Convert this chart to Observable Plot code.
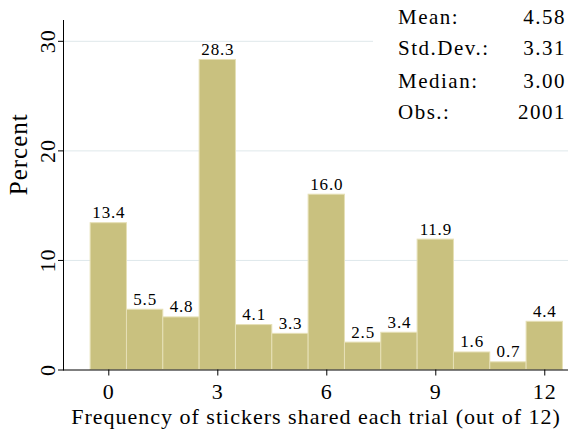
<!DOCTYPE html>
<html>
<head>
<meta charset="utf-8">
<script src="https://cdn.jsdelivr.net/npm/d3@7"></script>
<script src="https://cdn.jsdelivr.net/npm/@observablehq/plot@0.6"></script>
<style>
  html, body { margin: 0; padding: 0; background: #fff; }
  #chart { position: relative; width: 568px; height: 432px; font-family: "Liberation Serif", serif; }
  #chart g[aria-label="x-axis label"] text { letter-spacing: 1px; }
  #chart g[aria-label="x-axis tick label"] text,
  #chart g[aria-label="y-axis tick label"] text { letter-spacing: 1px; }
  #chart g.bar-labels text { letter-spacing: 0.8px; }
  #chart g.y-title text { letter-spacing: 1px; }
  #stats { position: absolute; left: 373px; top: 0; width: 195px; height: 128px; background: #fff; }
  #stats div { position: absolute; font-size: 21px; line-height: 1; letter-spacing: 1.5px; color: #000; white-space: nowrap; }
</style>
</head>
<body>
<div id="chart"></div>
<script>
// Histogram: share of trials by number of stickers shared (out of 12)
const stickers = [0, 1, 2, 3, 4, 5, 6, 7, 8, 9, 10, 11, 12];
const percents = [13.4, 5.5, 4.8, 28.3, 4.1, 3.3, 16.0, 2.5, 3.4, 11.9, 1.6, 0.7, 4.4];
const xTicks = [0, 3, 6, 9, 12];
const yTicks = [0, 10, 20, 30];
const statLabels = ["Mean:", "Std.Dev.:", "Median:", "Obs.:"];
const statValues = ["4.58", "3.31", "3.00", "2001"];

const bins = stickers.map((k, i) => ({k, pct: percents[i]}));

const plot = Plot.plot({
  width: 568,
  height: 432,
  marginLeft: 63,
  marginRight: 0,
  marginTop: 20,
  marginBottom: 62.5,
  style: {fontFamily: "Liberation Serif, serif", background: "#fff", color: "#000"},
  x: {domain: [-1.247, 12.653]},
  y: {domain: [0, 31.9]},
  marks: [
    Plot.gridY(yTicks.slice(1), {stroke: "#dfe8eb", strokeOpacity: 1, strokeWidth: 1}),
    Plot.rectY(bins, {
      x1: d => d.k - 0.5, x2: d => d.k + 0.5, y1: 0, y2: "pct",
      fill: "#c9c17f", stroke: "#e6e0b6", strokeWidth: 1, inset: 0
    }),
    Plot.text(bins, {
      x: "k", y: "pct", text: d => d.pct.toFixed(1),
      lineAnchor: "bottom", dy: -5, fontSize: 17, fill: "#000", className: "bar-labels"
    }),
    Plot.frame({anchor: "left", stroke: "#000", strokeOpacity: 1}),
    Plot.frame({anchor: "bottom", stroke: "#000", strokeOpacity: 1}),
    Plot.axisY(yTicks, {
      tickSize: 5, tickPadding: 4, tickRotate: -90, fontSize: 22, label: null
    }),
    Plot.axisX(xTicks, {
      tickSize: 6, tickPadding: 7, fontSize: 22,
      label: "Frequency of stickers shared each trial (out of 12)",
      labelAnchor: "center", labelArrow: "none", labelOffset: 54
    }),
    Plot.text(["Percent"], {
      frameAnchor: "left", dx: -45, rotate: -90, fontSize: 25, fill: "#000", className: "y-title"
    })
  ]
});

const chart = document.getElementById("chart");
chart.appendChild(plot);

// Summary statistics box in the upper right corner
const stats = document.createElement("div");
stats.id = "stats";
const baselines = [26, 57, 90, 121];
statLabels.forEach((lab, i) => {
  const l = document.createElement("div");
  l.textContent = lab;
  l.style.left = "25px";
  l.style.top = (baselines[i] - 19) + "px";
  const v = document.createElement("div");
  v.textContent = statValues[i];
  v.style.right = "2px";
  v.style.top = (baselines[i] - 19) + "px";
  stats.appendChild(l);
  stats.appendChild(v);
});
chart.appendChild(stats);
</script>
</body>
</html>
